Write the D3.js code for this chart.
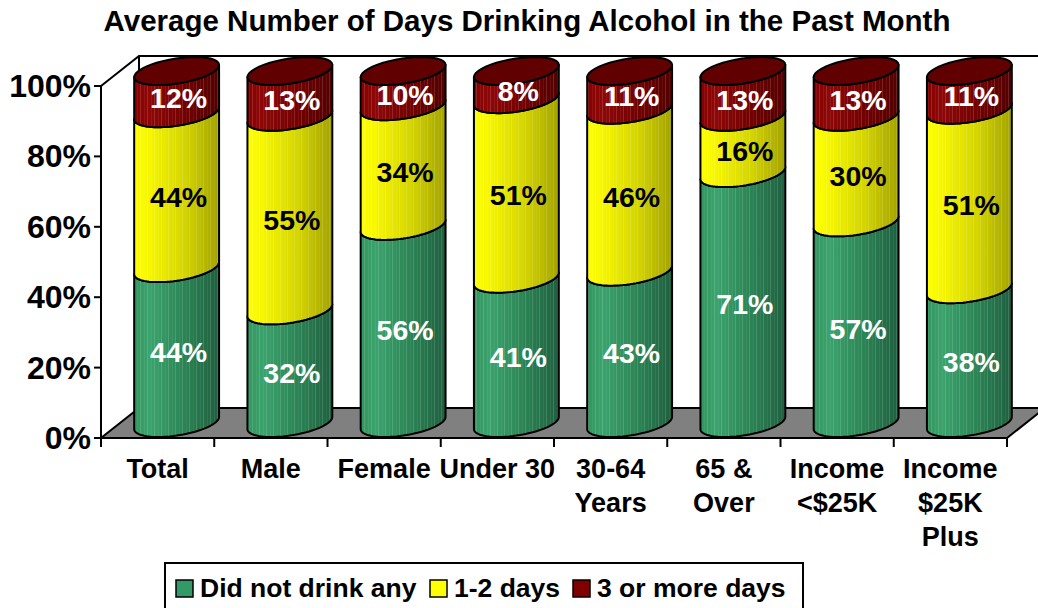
<!DOCTYPE html>
<html>
<head>
<meta charset="utf-8">
<script src="https://cdn.jsdelivr.net/npm/d3@7"></script>
<style>
  body { margin: 0; background: #fff; }
  svg { display: block; font-family: "Liberation Sans", Arial, sans-serif; font-weight: bold; }
</style>
</head>
<body>
<svg id="svg1" width="1038" height="608"></svg>
<script>
// chart data
var categories = ["Total", "Male", "Female", "Under 30", "30-64\nYears", "65 &\nOver", "Income\n<$25K", "Income\n$25K\nPlus"];
var seriesNames = ["Did not drink any", "1-2 days", "3 or more days"];
var didNotDrink = [44, 32, 56, 41, 43, 71, 57, 38];
var oneTwoDays = [44, 55, 34, 51, 46, 16, 30, 51];
var threePlus = [12, 13, 10, 8, 11, 13, 13, 11];
var yTicks = [0, 20, 40, 60, 80, 100];

var svg = d3.select('#svg1');

// front plane scales
var x = d3.scaleBand().domain(categories).range([101, 1007]).padding(0);
var y = d3.scaleLinear().domain([0, 100]).range([438, 86]);

// depth offset of the 3d box
var depthX = 38, depthY = -30;
var midX = depthX / 2, midY = depthY / 2;

// cylinder ellipse shape
var ea = 38.2, eb = 18.5, ec = 14;
var W = Math.sqrt(ea * ea + eb * eb);
var theta = Math.atan2(eb, ea);

var colors = {
  green: ["#33955f", "#3ba36d", "#2b8354", "#1f5f40"],
  yellow: ["#ffff00", "#f6f600", "#d4d400", "#a2a200"],
  red: ["#860000", "#8e0808", "#720000", "#520000"]
};
var segColors = ["green", "yellow", "red"];
var legendFill = ["#339966", "#ffff00", "#800000"];

var defs = svg.append('defs');
Object.keys(colors).forEach(function(k) {
  var g = defs.append('linearGradient').attr('id', 'grad-' + k)
    .attr('x1', '0%').attr('x2', '100%').attr('y1', '0%').attr('y2', '0%');
  var c = colors[k];
  g.append('stop').attr('offset', '0%').attr('stop-color', c[0]);
  g.append('stop').attr('offset', '18%').attr('stop-color', c[1]);
  g.append('stop').attr('offset', '60%').attr('stop-color', c[2]);
  g.append('stop').attr('offset', '100%').attr('stop-color', c[3]);
});
// faint vertical stripes like the original rendering
var pat = defs.append('pattern').attr('id', 'stripes')
  .attr('patternUnits', 'userSpaceOnUse').attr('width', 7).attr('height', 10);
pat.append('rect').attr('x', 0).attr('y', 0).attr('width', 1).attr('height', 10)
  .attr('fill', '#fff').attr('opacity', 0.14);
pat.append('rect').attr('x', 4).attr('y', 0).attr('width', 1).attr('height', 10)
  .attr('fill', '#fff').attr('opacity', 0.06);

// back wall lines
var x0 = 101, x1 = 1007;
svg.append('path')
  .attr('d', 'M' + x0 + ',' + y(100) + 'L' + (x0 + depthX) + ',' + (y(100) + depthY) +
    'L' + (x1 + depthX + 10) + ',' + (y(100) + depthY) +
    'M' + (x0 + depthX) + ',' + (y(100) + depthY) + 'L' + (x0 + depthX) + ',' + (y(0) + depthY))
  .attr('fill', 'none').attr('stroke', '#000').attr('stroke-width', 2);

// floor
svg.append('path')
  .attr('d', 'M' + x0 + ',' + y(0) + 'L' + x1 + ',' + y(0) + 'L' + (x1 + depthX) + ',' + (y(0) + depthY) +
    'L' + (x0 + depthX) + ',' + (y(0) + depthY) + 'Z')
  .attr('fill', '#808080').attr('stroke', '#000').attr('stroke-width', 2);

function arcPts(cx, cy, t0, t1) {
  var pts = [], n = 40;
  for (var i = 0; i <= n; i++) {
    var t = t0 + (t1 - t0) * i / n;
    pts.push([cx + ea * Math.cos(t) + eb * Math.sin(t), cy - ec * Math.sin(t)]);
  }
  return pts;
}
var line = d3.line();

function segmentPath(cx, yb, yt) {
  var bottom = arcPts(cx, yb, Math.PI + theta, 2 * Math.PI + theta);
  var top = arcPts(cx, yt, 2 * Math.PI + theta, Math.PI + theta);
  return line(bottom.concat(top)) + 'Z';
}

// stack the series
var stackData = categories.map(function(c, i) {
  return { cat: c, vals: [didNotDrink[i], oneTwoDays[i], threePlus[i]] };
});

var cyl = svg.selectAll('g.cyl').data(stackData).enter().append('g').attr('class', 'cyl');

cyl.each(function(d) {
  var g = d3.select(this);
  var cx = x(d.cat) + x.bandwidth() / 2 + midX;
  var base = 0;
  d.vals.forEach(function(v, s) {
    var yb = y(base) + midY, yt = y(base + v) + midY;
    var p = segmentPath(cx, yb, yt);
    g.append('path').attr('d', p).attr('fill', 'url(#grad-' + segColors[s] + ')');
    g.append('path').attr('d', p).attr('fill', 'url(#stripes)')
      .attr('stroke', '#000').attr('stroke-width', 2).attr('stroke-linejoin', 'round');
    base += v;
  });
  // top cap
  var capY = y(100) + midY;
  g.append('path').attr('d', line(arcPts(cx, capY, 0, 2 * Math.PI)) + 'Z')
    .attr('fill', '#600000').attr('stroke', '#000').attr('stroke-width', 2);

  // value labels
  base = 0;
  d.vals.forEach(function(v, s) {
    var ym = y(base + v / 2) + midY + 6;
    g.append('text').attr('x', cx + 2).attr('y', ym)
      .attr('text-anchor', 'middle').attr('dominant-baseline', 'central')
      .attr('font-size', 28.5).attr('fill', s === 1 ? '#000' : '#fff')
      .text(v + '%');
    base += v;
  });
});

// y axis
svg.append('line').attr('x1', x0).attr('x2', x0).attr('y1', y(0)).attr('y2', y(100))
  .attr('stroke', '#000').attr('stroke-width', 2);
var yt = svg.selectAll('g.ytick').data(yTicks).enter().append('g').attr('class', 'ytick');
yt.append('line').attr('x1', x0 - 7).attr('x2', x0).attr('y1', function(d) { return y(d); })
  .attr('y2', function(d) { return y(d); }).attr('stroke', '#000').attr('stroke-width', 2);
yt.append('text').attr('x', 91).attr('y', function(d) { return y(d) + 11; })
  .attr('text-anchor', 'end').attr('font-size', 32).text(function(d) { return d + '%'; });

// x axis ticks and labels
var bounds = categories.map(function(c) { return x(c); }).concat([x1]);
svg.selectAll('line.xtick').data(bounds).enter().append('line').attr('class', 'xtick')
  .attr('x1', function(d) { return d; }).attr('x2', function(d) { return d; })
  .attr('y1', y(0)).attr('y2', y(0) + 9).attr('stroke', '#000').attr('stroke-width', 2);

var xl = svg.selectAll('text.xlab').data(categories).enter().append('text').attr('class', 'xlab')
  .attr('text-anchor', 'middle').attr('font-size', 27);
xl.each(function(d) {
  var t = d3.select(this);
  d.split('\n').forEach(function(s, i) {
    t.append('tspan').attr('x', x(d) + x.bandwidth() / 2).attr('y', 478 + i * 34).text(s);
  });
});

// title
svg.append('text').attr('x', 527).attr('y', 31).attr('text-anchor', 'middle')
  .attr('font-size', 29.5).text('Average Number of Days Drinking Alcohol in the Past Month');

// legend
var lg = svg.append('g');
lg.append('rect').attr('x', 165).attr('y', 563).attr('width', 638).attr('height', 70)
  .attr('fill', '#fff').attr('stroke', '#000').attr('stroke-width', 2);
var legX = [176, 430, 573];
seriesNames.forEach(function(n, i) {
  lg.append('rect').attr('x', legX[i]).attr('y', 580).attr('width', 17).attr('height', 17)
    .attr('fill', legendFill[i]).attr('stroke', '#000').attr('stroke-width', 1.5);
  lg.append('text').attr('x', legX[i] + 24).attr('y', 597).attr('font-size', 26.5).text(n);
});
</script>
</body>
</html>
